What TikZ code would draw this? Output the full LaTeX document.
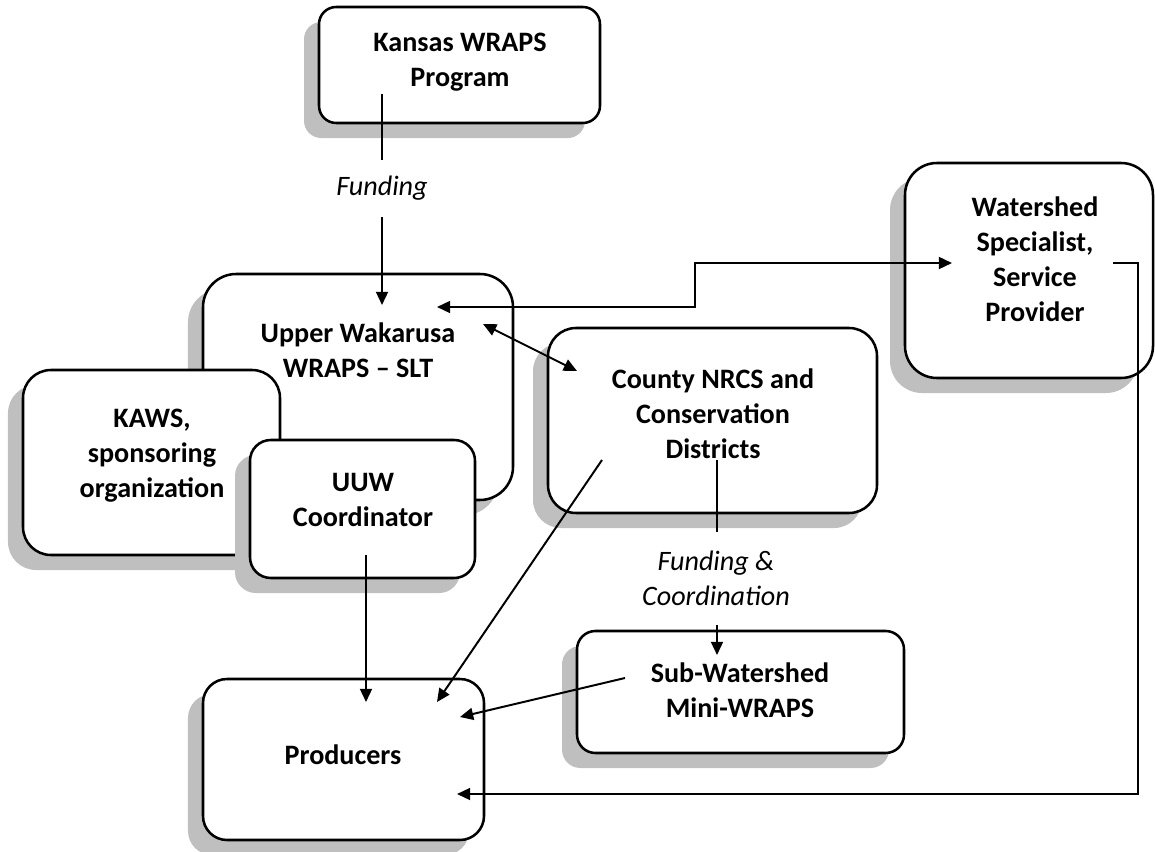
\documentclass[tikz,border=0pt]{standalone}
\usepackage{fontspec}
\setmainfont{Carlito}
\usetikzlibrary{arrows.meta,shadows,fit}

\begin{document}
\begin{tikzpicture}[x=0.025cm, y=-0.025cm,
    orgbox/.style={draw, fill=white, line width=1.8pt, inner sep=0pt,
        rounded corners=#1,
        drop shadow={shadow xshift=-0.375cm, shadow yshift=-0.375cm,
            fill=gray!50, opacity=1}},
    boxtext/.style={align=center, inner sep=0pt,
        font=\fontsize{20}{25}\selectfont\bfseries},
    flowlabel/.style={align=center, inner sep=0pt,
        font=\fontsize{20}{25}\selectfont\itshape},
    link/.style={line width=1.4pt},
    arrowto/.style={link, -{Triangle[length=0.33cm, width=0.3cm]}},
    arrowboth/.style={link, {Triangle[length=0.33cm, width=0.3cm]}-{Triangle[length=0.33cm, width=0.3cm]}}]

    \useasboundingbox (0,0) rectangle (1155,852);

    % Boxes, back to front, each with its text
    \node[orgbox=0.43cm, fit={(319,7) (600,123)}] (kwp) {};
    \node[boxtext] (kwptxt) at (460,62.5) {Kansas WRAPS\\Program};
    \node[orgbox=0.83cm, fit={(203,274) (513,500)}] (slt) {};
    \node[boxtext] (slttxt) at (358,350) {Upper Wakarusa\\WRAPS -- SLT};
    \node[orgbox=0.7cm, fit={(23,370) (280,555)}] (kaws) {};
    \node[boxtext] (kawstxt) at (152,456) {KAWS,\\sponsoring\\organization};
    \node[orgbox=0.52cm, fit={(250,440) (475,578)}] (uuw) {};
    \node[boxtext] (uuwtxt) at (363,500) {UUW\\Coordinator};
    \node[orgbox=0.7cm, fit={(548,328) (877,513)}] (nrcs) {};
    \node[boxtext] (nrcstxt) at (713,414) {County NRCS and\\Conservation\\Districts};
    \node[orgbox=0.8cm, fit={(905,163) (1153,378)}] (wsp) {};
    \node[boxtext] (wsptxt) at (1035,259) {Watershed\\Specialist,\\Service\\Provider};
    \node[orgbox=0.46cm, fit={(577,631) (904,753)}] (sub) {};
    \node[boxtext] (subtxt) at (740,690) {Sub-Watershed\\Mini-WRAPS};
    \node[orgbox=0.6cm, fit={(203,679) (484,840)}] (prod) {};
    \node[boxtext] (prodtxt) at (343,755) {Producers};

    % Flow labels
    \node[flowlabel, minimum height=1.425cm] (fund) at (382,188.5) {Funding};
    \node[flowlabel, minimum height=2.325cm] (fc) at (716,578.5) {Funding \&\\Coordination};

    % Connector ends
    \coordinate (kwpout) at (382,94);
    \coordinate (sltin1) at (382,305);
    \coordinate (sltin2) at (437,307);
    \coordinate (sltin3) at (483,324);
    \coordinate (jog) at (695,285);
    \coordinate (wspin) at (952,263);
    \coordinate (wspout) at (1113,263);
    \coordinate (rail) at (1138,500);
    \coordinate (nrcsin) at (577,371);
    \coordinate (nrcsout1) at (602,460);
    \coordinate (nrcsout2) at (717,460);
    \coordinate (subin) at (717,655);
    \coordinate (subout) at (625,678);
    \coordinate (uuwout) at (366,555);
    \coordinate (prodin1) at (366,702);
    \coordinate (prodin2) at (437,702);
    \coordinate (prodin3) at (460,717);
    \coordinate (prodin4) at (457,794);

    % Connectors
    \draw[link] (kwpout) -- (fund.north);
    \draw[arrowto] (fund.south) -- (sltin1);
    \draw[arrowboth] (sltin2) -| (jog) |- (wspin);
    \draw[arrowboth] (sltin3) -- (nrcsin);
    \draw[link] (nrcsout2) -- (fc.north -| nrcsout2);
    \draw[arrowto] (fc.south -| subin) -- (subin);
    \draw[arrowto] (uuwout) -- (prodin1);
    \draw[arrowto] (nrcsout1) -- (prodin2);
    \draw[arrowto] (subout) -- (prodin3);
    \draw[arrowto] (wspout) -| (rail) |- (prodin4);

\end{tikzpicture}
\end{document}
